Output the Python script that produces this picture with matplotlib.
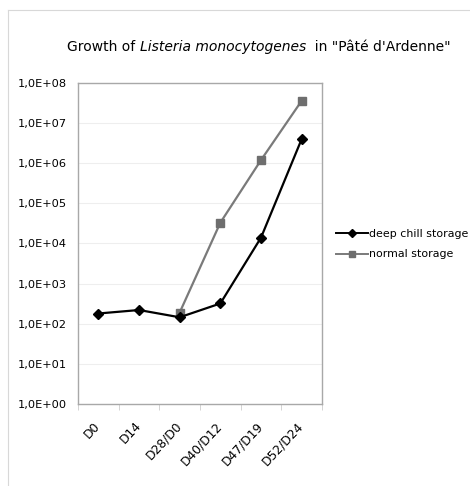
import matplotlib
matplotlib.use("Agg")
import matplotlib.pyplot as plt
from matplotlib.lines import Line2D
import matplotlib.transforms as mtransforms
import numpy as np

# Sampling points and bacterial counts (cfu/g)
categories = ["D0", "D14", "D28/D0", "D40/D12", "D47/D19", "D52/D24"]
deep_chill = [1.8e2, 2.2e2, 1.45e2, 3.2e2, 1.4e4, 4.0e6]
normal = [None, None, 1.9e2, 3.3e4, 1.2e6, 3.6e7]
y_ticks = [1e0, 1e1, 1e2, 1e3, 1e4, 1e5, 1e6, 1e7, 1e8]
y_tick_labels = ["1,0E+00", "1,0E+01", "1,0E+02", "1,0E+03", "1,0E+04",
                 "1,0E+05", "1,0E+06", "1,0E+07", "1,0E+08"]

plt.rcParams["font.family"] = ["DejaVu Sans"]

W, H = 470, 486
fig = plt.figure(figsize=(W / 100, H / 100), dpi=100)
fig.patch.set_facecolor("white")

ax = fig.add_axes([78 / W, 1 - 404 / H, 244 / W, (404 - 83) / H])

x = np.arange(len(categories)) + 0.5
ax.plot(x, deep_chill, color="black", lw=1.6, marker="D", ms=5.5,
        markerfacecolor="black", label="deep chill storage", zorder=3)
nx = [xi for xi, v in zip(x, normal) if v is not None]
nv = [v for v in normal if v is not None]
ax.plot(nx, nv, color="#7a7a7a", lw=1.6, marker="s", ms=5.5,
        markerfacecolor="#6e6e6e", markeredgecolor="#6e6e6e",
        label="normal storage", zorder=2)

ax.set_yscale("log")
ax.set_ylim(1e0, 1e8)
ax.set_yticks(y_ticks)
ax.set_yticklabels(y_tick_labels)
ax.yaxis.set_minor_locator(matplotlib.ticker.NullLocator())
ax.set_xlim(0, len(categories))
ax.set_xticks(x)
ax.set_xticklabels(categories, rotation=47, ha="right", rotation_mode="anchor")
ax.tick_params(axis="x", length=0, pad=11, labelsize=8.8)
ax.tick_params(axis="y", length=0, pad=8, labelsize=8.2)
ax.set_xticks(np.arange(len(categories) + 1), minor=True)
ax.tick_params(axis="x", which="minor", length=4, color="#cccccc")

shift = mtransforms.ScaledTranslation(-5 / 100, 0, fig.dpi_scale_trans)
for lbl in ax.get_xticklabels():
    lbl.set_transform(lbl.get_transform() + shift)

for s in ax.spines.values():
    s.set_color("#a8a8a8")
    s.set_linewidth(1.0)
ax.grid(axis="y", color="#eeeeee", lw=0.8)
ax.set_axisbelow(True)

# Legend
handles = [Line2D([], [], color="black", lw=1.4, marker="D", ms=4.5),
           Line2D([], [], color="#7a7a7a", lw=1.4, marker="s", ms=4.5,
                  markerfacecolor="#6e6e6e", markeredgecolor="#6e6e6e")]
fig.legend(handles, ["deep chill storage", "normal storage"],
           loc="center left", bbox_to_anchor=(336 / W, 1 - 244 / H),
           frameon=False, fontsize=7.9, handlelength=2.9, handletextpad=0.15,
           labelspacing=1.0, borderaxespad=0, borderpad=0)

# Outer frame lines
fig.add_artist(Line2D([8 / W, 8 / W], [0, 1 - 10 / H], color="#d8d8d8", lw=0.8))
fig.add_artist(Line2D([8 / W, 1], [1 - 10 / H, 1 - 10 / H], color="#d8d8d8", lw=0.8))

# Title with italic species name
renderer = fig.canvas.get_renderer()
ty = 1 - 47 / H
parts = [("Growth of ", "normal"), ("Listeria monocytogenes", "italic"),
         ("  in \"Pâté d'Ardenne\"", "normal")]
texts = []
for s, style in parts:
    t = fig.text(0, ty, s, fontsize=10, style=style, va="center", ha="left")
    texts.append(t)
widths = [t.get_window_extent(renderer).width for t in texts]
total = sum(widths)
xpos = (259 - total / 2)
for t, w in zip(texts, widths):
    t.set_x(xpos / W)
    xpos += w

fig.savefig("out.png", dpi=100)
